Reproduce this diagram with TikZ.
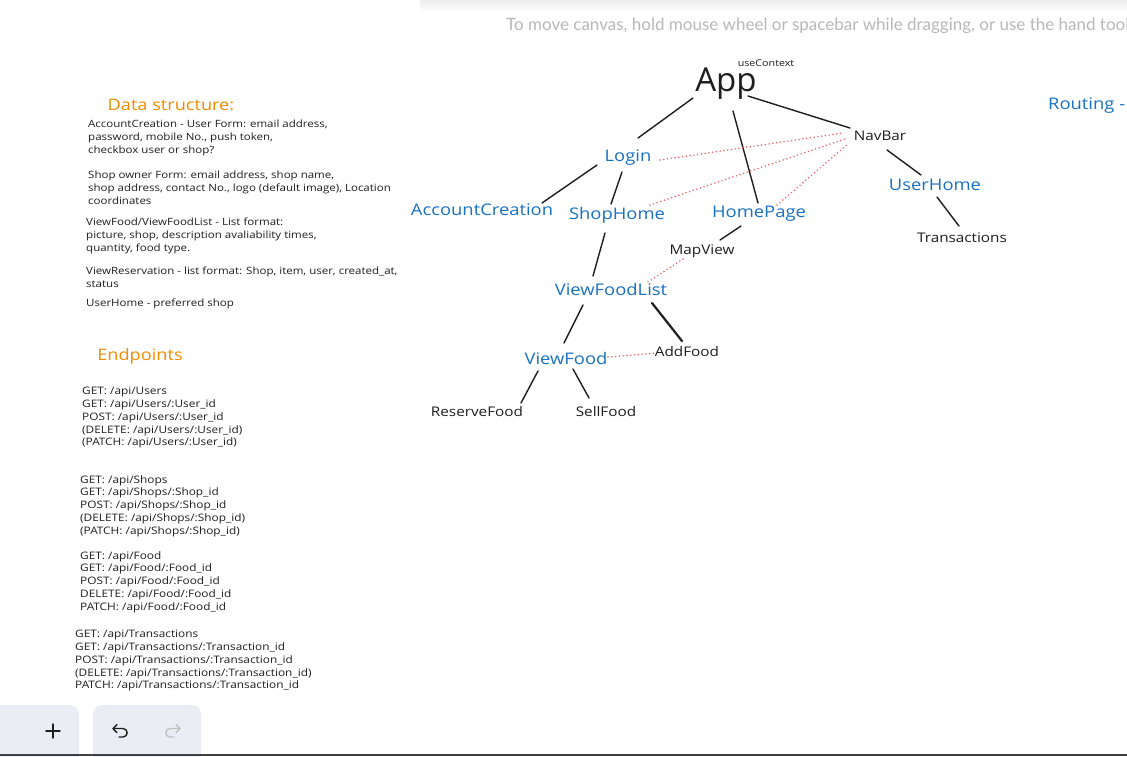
\documentclass[tikz,border=0pt]{standalone}
\usepackage{fontspec}
\setmainfont{Open Sans}[FakeStretch=1.15]
\newfontfamily\plainfont{Open Sans}
\newfontfamily\uifont{Lato}
\definecolor{exblue}{HTML}{1971C2}
\definecolor{exorange}{HTML}{F08C00}
\definecolor{exred}{HTML}{F26060}
\definecolor{exink}{HTML}{1E1E1E}
\definecolor{toolbg}{HTML}{ECECF4}
\definecolor{hintgray}{HTML}{B8B8B8}
\begin{document}
\begin{tikzpicture}[x=1pt,y=-1pt,
  compblue/.style={text=exblue, font=\fontsize{16}{18}\selectfont, inner sep=1pt},
  compblack/.style={text=exink, font=\fontsize{13.3}{15}\selectfont, inner sep=1pt},
  heading/.style={text=exorange, font=\fontsize{15.8}{17}\selectfont, inner sep=0pt},
  notes/.style={text=exink, font=\fontsize{10}{13}\selectfont, align=left, anchor=north west, inner sep=0pt},
  eps/.style={text=exink, font=\fontsize{10.3}{12.8}\selectfont, align=left, anchor=north west, inner sep=0pt},
  link/.style={draw=exink, line width=1.4pt, line cap=round},
  boldlink/.style={draw=exink, line width=2.2pt, line cap=round},
  dotlink/.style={draw=exred, line width=1.7pt, line cap=round, dash pattern=on 0pt off 3.8pt},
  toolbox/.style={fill=toolbg, draw=none, rounded corners=9pt},
  icon/.style={line width=1.4pt, line cap=round, line join=round}
]
\useasboundingbox (0,0) rectangle (1127,756);
\clip (0,0) rectangle (1127,756);
\fill[white] (0,0) rectangle (1127,756);

% top toolbar shadow and hint
\shade[top color=black!7, bottom color=white] (420,0) rectangle (1127,12);
\node[anchor=west, text=hintgray, font=\uifont\fontsize{17}{19}\selectfont, inner sep=0pt] (hint) at (506,26) {To move canvas, hold mouse wheel or spacebar while dragging, or use the hand tool};

% left notes
\node[heading] (dshead) at (171,105) {Data structure:};
\node[notes] (dsA) at (88,120) {AccountCreation - User Form: email address,\\password, mobile No., push token,\\checkbox user or shop?};
\node[notes] (dsB) at (88,171) {Shop owner Form: email address, shop name,\\shop address, contact No., logo (default image), Location\\coordinates};
\node[notes] (dsC) at (86,218) {ViewFood/ViewFoodList - List format:\\picture, shop, description avaliability times,\\quantity, food type.};
\node[notes] (dsD) at (86,267) {ViewReservation - list format: Shop, item, user, created\_at,\\status};
\node[notes] (dsE) at (86,299) {UserHome - preferred shop};

\node[heading] (ephead) at (140,356) {Endpoints};
\node[eps] (epU) at (82,387) {GET: /api/Users\\GET: /api/Users/:User\_id\\POST: /api/Users/:User\_id\\(DELETE: /api/Users/:User\_id)\\(PATCH: /api/Users/:User\_id)};
\node[eps] (epS) at (80,475) {GET: /api/Shops\\GET: /api/Shops/:Shop\_id\\POST: /api/Shops/:Shop\_id\\(DELETE: /api/Shops/:Shop\_id)\\(PATCH: /api/Shops/:Shop\_id)};
\node[eps] (epF) at (80,551) {GET: /api/Food\\GET: /api/Food/:Food\_id\\POST: /api/Food/:Food\_id\\DELETE: /api/Food/:Food\_id\\PATCH: /api/Food/:Food\_id};
\node[eps] (epT) at (75,630) {GET: /api/Transactions\\GET: /api/Transactions/:Transaction\_id\\POST: /api/Transactions/:Transaction\_id\\(DELETE: /api/Transactions/:Transaction\_id)\\PATCH: /api/Transactions/:Transaction\_id};

% component tree
\node[text=exink, font=\plainfont\fontsize{33}{35}\selectfont, inner sep=1pt] (app) at (726,84) {App};
\node[text=exink, font=\fontsize{9.3}{10}\selectfont, inner sep=0pt] (ctx) at (766,63) {useContext};
\node[compblack] (navbar) at (880,136) {NavBar};
\node[compblue] (login) at (628,158) {Login};
\node[compblue] (acct) at (482,210) {AccountCreation};
\node[compblue] (shophome) at (617,215) {ShopHome};
\node[compblue] (homepage) at (759,214) {HomePage};
\node[compblue] (userhome) at (935,185) {UserHome};
\node[compblack] (trans) at (962,238) {Transactions};
\node[compblack] (mapview) at (702,251) {MapView};
\node[compblue] (vfl) at (611,289) {ViewFoodList};
\node[compblack] (addfood) at (687,352) {AddFood};
\node[compblue] (viewfood) at (566,358) {ViewFood};
\node[compblack] (reserve) at (477,412) {ReserveFood};
\node[compblack] (sell) at (606,412) {SellFood};
\node[compblue, anchor=west] (routing) at (1047,106) {Routing -};

% solid connectors
\draw[link] ([shift={(-33,14)}]app.center) -- ([shift={(10,-20)}]login.center);
\draw[link] ([shift={(7,27)}]app.center) -- ([shift={(-1,-11)}]homepage.center);
\draw[link] ([shift={(22,12)}]app.center) -- ([shift={(-30,-8)}]navbar.center);
\draw[link] ([shift={(-31,7)}]login.center) -- ([shift={(60,-7)}]acct.center);
\draw[link] ([shift={(-6,14)}]login.center) -- ([shift={(-6,-11)}]shophome.center);
\draw[link] ([shift={(7,14)}]navbar.center) -- ([shift={(-14,-10)}]userhome.center);
\draw[link] ([shift={(2,12)}]userhome.center) -- ([shift={(-3,-12)}]trans.center);
\draw[link] ([shift={(-18,12)}]homepage.center) -- ([shift={(18,-11)}]mapview.center);
\draw[link] ([shift={(-12,18)}]shophome.center) -- ([shift={(-18,-13)}]vfl.center);
\draw[link] ([shift={(-28,16)}]vfl.center) -- ([shift={(-2,-15)}]viewfood.center);
\draw[boldlink] ([shift={(41,14)}]vfl.center) -- ([shift={(-5,-11)}]addfood.center);
\draw[link] ([shift={(-28,13)}]viewfood.center) -- ([shift={(44,-9)}]reserve.center);
\draw[link] ([shift={(7,11)}]viewfood.center) -- ([shift={(-17,-14)}]sell.center);

% dotted connectors
\draw[dotlink] ([shift={(32,2)}]login.center) -- ([shift={(-37,-3)}]navbar.center);
\draw[dotlink] ([shift={(33,-10)}]shophome.center) -- ([shift={(-35,3)}]navbar.center);
\draw[dotlink] ([shift={(18,-9)}]homepage.center) -- ([shift={(-32,8)}]navbar.center);
\draw[dotlink] ([shift={(-19,8)}]mapview.center) -- ([shift={(37,-7)}]vfl.center);
\draw[dotlink] ([shift={(42,-1)}]viewfood.center) -- ([shift={(-30,1)}]addfood.center);

% bottom toolbar
\fill[toolbox] (-12,705) rectangle (79,775);
\fill[toolbox] (93,705) rectangle (201,775);
\coordinate (plusc) at (53,731);
\draw[icon, draw=exink] ([shift={(-7,0)}]plusc) -- ([shift={(7,0)}]plusc);
\draw[icon, draw=exink] ([shift={(0,-7)}]plusc) -- ([shift={(0,7)}]plusc);
\draw[icon, draw=exink] (117,724.5) -- (113,728.5) -- (117,732.5);
\draw[icon, draw=exink] (113,728.5) -- (123,728.5) .. controls (128.5,728.5) and (128.5,737) .. (123,737) -- (119,737);
\draw[icon, draw=black!25] (176,724.5) -- (180,728.5) -- (176,732.5);
\draw[icon, draw=black!25] (180,728.5) -- (170,728.5) .. controls (164.5,728.5) and (164.5,737) .. (170,737) -- (174,737);
\fill[black!75] (0,753.5) rectangle (1127,756);
\end{tikzpicture}
\end{document}
